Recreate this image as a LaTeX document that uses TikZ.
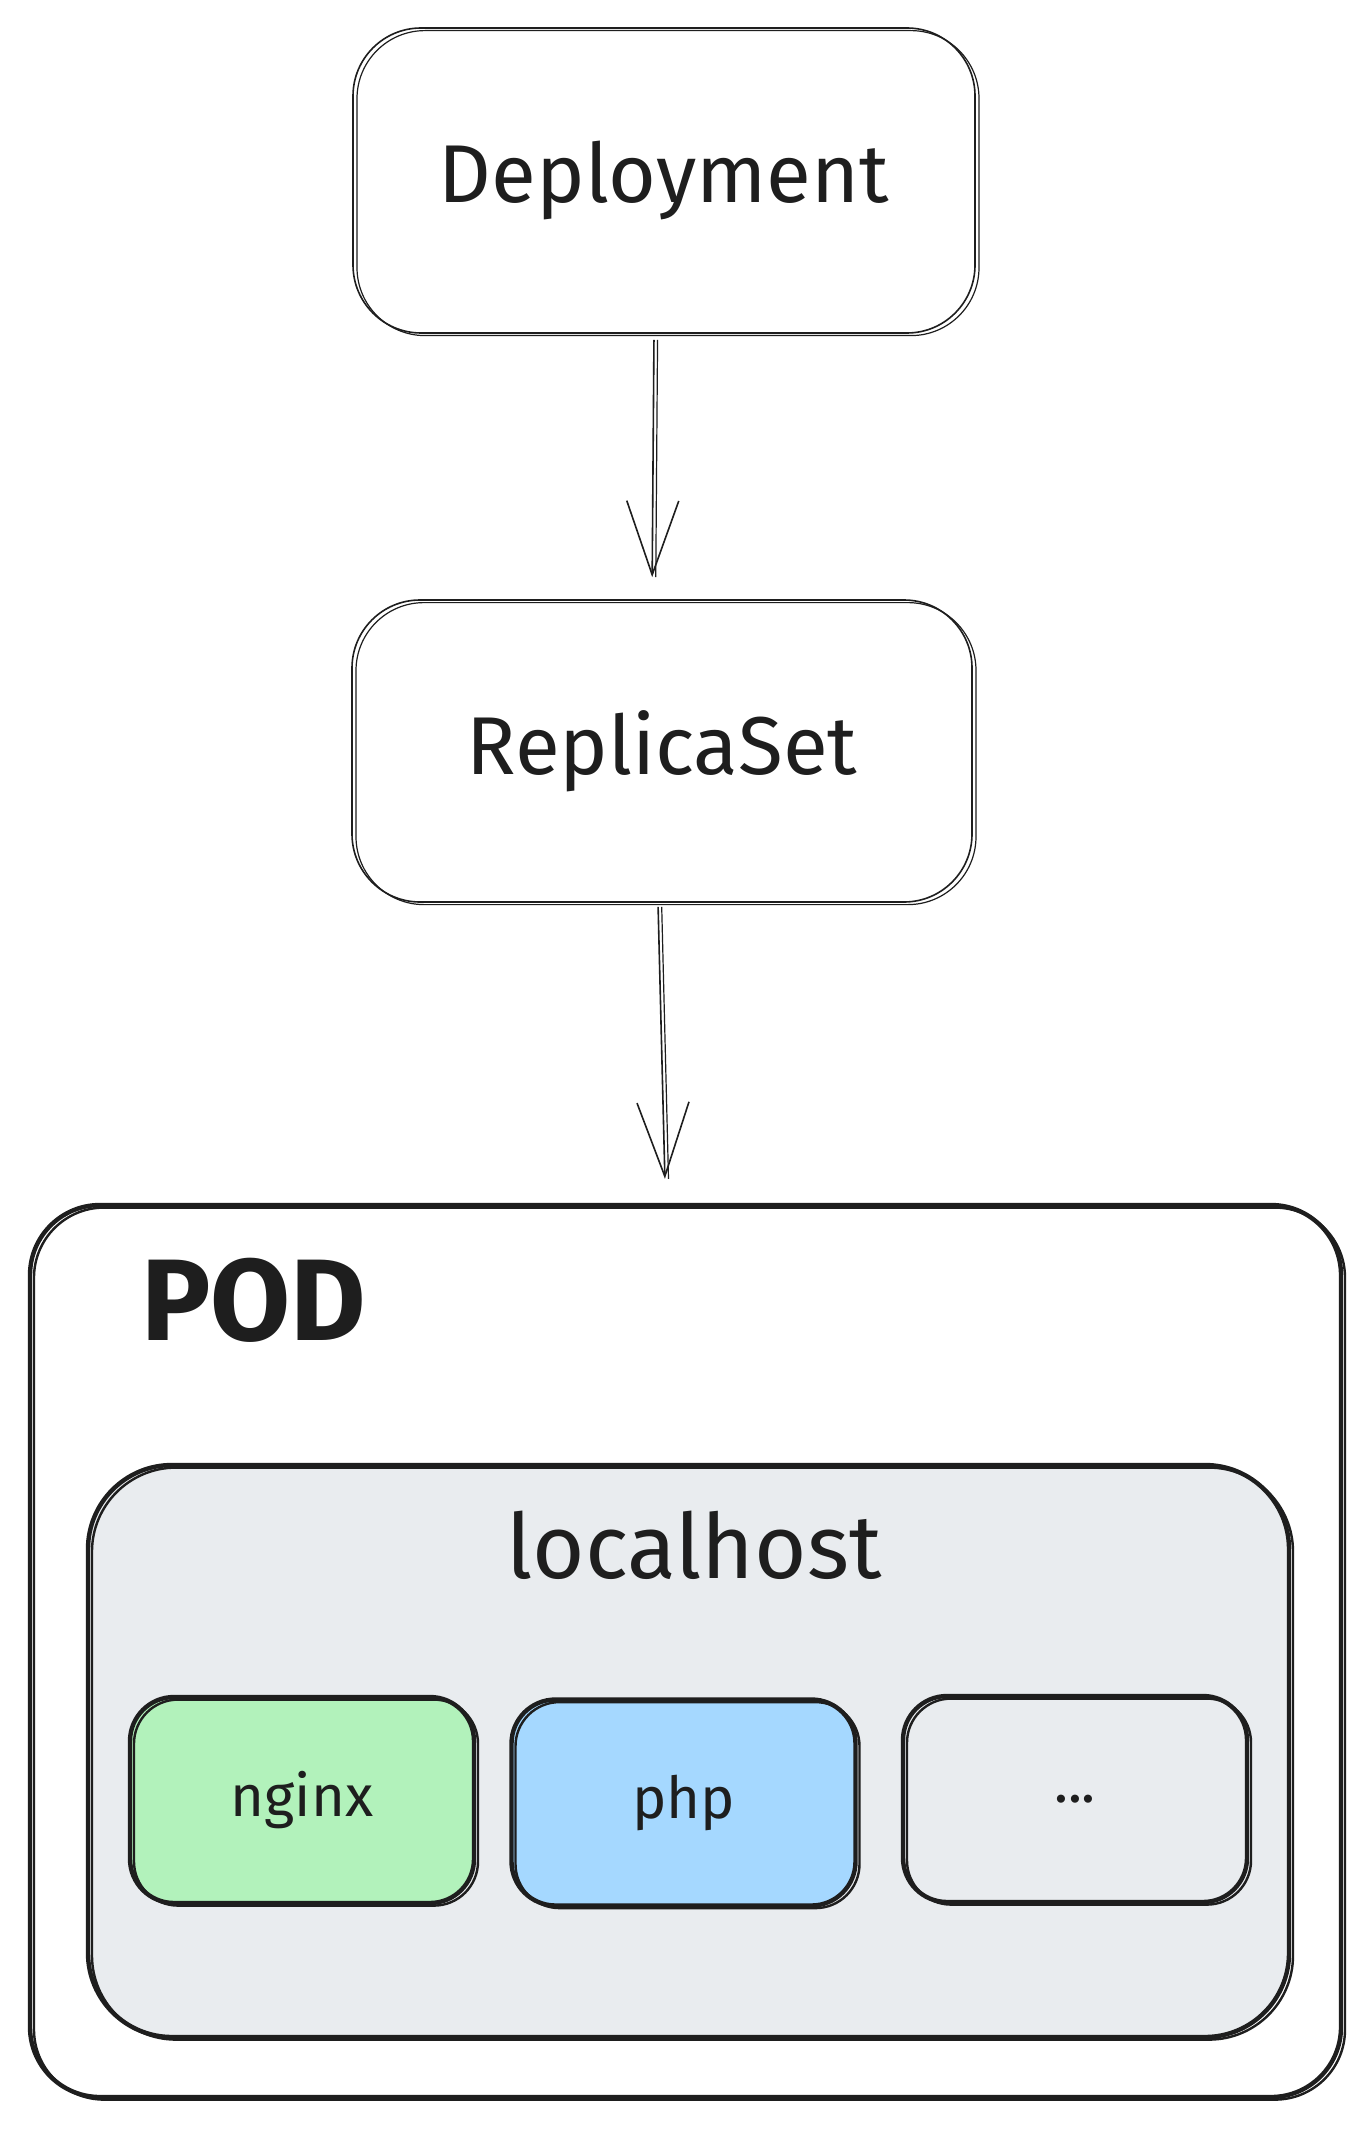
\documentclass[tikz,border=0pt]{standalone}
\usepackage{fontspec}
\setmainfont{Fira Sans}
\usetikzlibrary{arrows.meta}
\definecolor{ink}{HTML}{1E1E1E}
\definecolor{nginxgreen}{HTML}{B2F2BB}
\definecolor{phpblue}{HTML}{A5D8FF}
\definecolor{hostgrey}{HTML}{E9ECEF}

\tikzset{
  sketch/.style={postaction={draw=ink, line width=#1, transform canvas={shift={(2pt,-1.3pt)}}}},
  thinbox/.style={draw=ink, line width=0.8pt, rounded corners=34pt, text=ink,
    font=\fontsize{41}{48}\selectfont, sketch=0.6pt},
  boldbox/.style={draw=ink, line width=2.2pt, sketch=1.2pt},
  appbox/.style={boldbox, rounded corners=22pt, minimum width=172pt, minimum height=103pt,
    text=ink, font=\fontsize{29}{34}\selectfont},
  flow/.style={draw=ink, line width=0.8pt, -{Straight Barb[length=37pt,width=26pt]},
    postaction={draw=ink, line width=0.6pt, -, transform canvas={xshift=1.8pt}}}
}

\begin{document}
\begin{tikzpicture}[x=0.5pt, y=-0.5pt]
\useasboundingbox (0,0) rectangle (1371,2129);
\fill[white] (0,0) rectangle (1371,2129);
% controllers
\node[thinbox, minimum width=311pt, minimum height=152.5pt] (deploy) at (664,180.5) {Deployment};
\node[thinbox, minimum width=310pt, minimum height=151pt] (replica) at (662,751) {ReplicaSet};
% pod and its shared host
\node[boldbox, fill=white, rounded corners=35pt, minimum width=655.5pt, minimum height=446pt] (pod) at (685.5,1651) {};
\node[anchor=base west, text=ink, font=\fontsize{58}{64}\selectfont\bfseries] (podlabel) at (134,1340) {POD};
\node[boldbox, fill=hostgrey, rounded corners=42pt, minimum width=600.5pt, minimum height=286pt] (host) at (688.5,1751) {};
\node[anchor=base, text=ink, font=\fontsize{45}{52}\selectfont] (hostlabel) at (694,1578) {localhost};
% containers
\node[appbox, fill=nginxgreen] (nginx) at (302,1800) {nginx};
\node[appbox, fill=phpblue] (php) at (683.5,1802.5) {php};
\node[appbox] (more) at (1075,1799) {...};
% arrows
\draw[flow, shorten <=3pt, shorten >=11pt] ([xshift=-5pt]deploy.south) -- ([xshift=-5pt]replica.north);
\draw[flow, shorten <=2pt, shorten >=12pt] ([xshift=-2pt]replica.south) -- ([xshift=-10pt]pod.north);
\end{tikzpicture}
\end{document}
